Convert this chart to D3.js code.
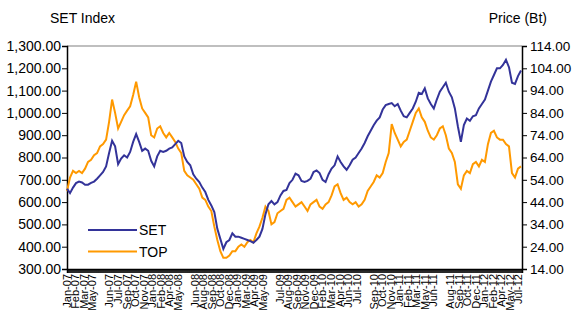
<!DOCTYPE html>
<html>
<head>
<meta charset="utf-8">
<script src="https://cdn.jsdelivr.net/npm/d3@7"></script>
<style>
  body { margin: 0; background: #fff; }
  svg { font-family: "Liberation Sans", Arial, sans-serif; }
</style>
</head>
<body>
<script>
// SET index and TOP share price, half-monthly readings Jan-07 .. Jul-12
var setIndex = [660, 640, 665, 685, 692, 688, 678, 678, 686, 692,
  705, 720, 735, 760, 820, 875, 850, 770, 795, 810,
  800, 825, 870, 905, 870, 830, 840, 830, 785, 760,
  805, 830, 825, 830, 840, 845, 860, 875, 865, 805,
  780, 765, 725, 705, 690, 665, 645, 610, 585, 555,
  480, 435, 390, 420, 430, 460, 445, 445, 440, 435,
  430, 425, 418, 430, 445, 480, 545, 590, 605, 590,
  600, 630, 650, 655, 685, 700, 728, 720, 695, 690,
  695, 705, 735, 742, 730, 700, 690, 725, 750, 765,
  805, 780, 760, 745, 765, 790, 800, 820, 840, 865,
  895, 920, 945, 965, 980, 1015, 1035, 1040, 1044, 1030,
  1040, 1010, 985, 980, 1000, 1020, 1050, 1090, 1085, 1110,
  1065, 1040, 1020, 1060, 1095, 1115, 1135, 1095, 1070, 1020,
  940, 870, 945, 975, 965, 985, 990, 1020, 1040, 1060,
  1100, 1140, 1170, 1200, 1200, 1215, 1238, 1205, 1135, 1130,
  1165, 1190];

var topPrice = [49, 55, 58, 57, 58, 57, 59, 62, 63, 65,
  66, 69, 70, 72, 80, 90, 84, 77, 80, 83,
  85, 87, 92, 98, 91, 86, 84, 82, 74, 73,
  77, 78, 75, 73, 75, 73, 71, 68, 66, 58,
  56, 55, 54, 52, 50, 46, 45, 42, 40, 33,
  27, 22, 19, 19, 20, 22, 22, 24, 25, 24,
  26, 27, 26, 30, 33, 37, 42, 40, 34, 35,
  39, 40, 41, 45, 46, 44, 42, 43, 44, 42,
  40, 43, 44, 45, 42, 41, 43, 44, 47, 51,
  52, 48, 45, 46, 44, 43, 44, 42, 43, 45,
  49, 51, 53, 56, 55, 57, 62, 66, 79, 75,
  72, 69, 71, 72, 76, 80, 84, 86, 82, 80,
  76, 73, 72, 74, 77, 78, 74, 68, 66, 62,
  52, 50, 56, 58, 57, 61, 62, 60, 63, 62,
  70, 75, 76, 73, 72, 72, 70, 69, 57, 55,
  59, 60];

// month labels under the axis and the label slot they sit in (Excel skips some)
var monthLabels = ["Jan-07", "Feb-07", "Mar-07", "May-07", "Jun-07", "Jul-07", "Sep-07", "Oct-07", "Nov-07",
  "Jan-08", "Feb-08", "Apr-08", "May-08", "Jun-08", "Aug-08", "Sep-08", "Oct-08", "Dec-08",
  "Jan-09", "Mar-09", "Apr-09", "May-09", "Jul-09", "Aug-09", "Sep-09", "Nov-09", "Dec-09",
  "Feb-10", "Mar-10", "Apr-10", "Jun-10", "Jul-10", "Sep-10", "Oct-10", "Nov-10",
  "Jan-11", "Feb-11", "Mar-11", "May-11", "Jun-11", "Aug-11", "Sep-11", "Oct-11", "Dec-11",
  "Jan-12", "Feb-12", "Apr-12", "May-12", "Jul-12"];
var labelSlots = [0, 1, 2, 3, 5, 6, 7, 8, 9,
  10, 11, 12, 13, 15, 16, 17, 18, 19,
  20, 21, 22, 23, 25, 26, 27, 28, 29,
  30, 31, 32, 33, 34, 36, 37, 38,
  39, 40, 41, 42, 43, 45, 46, 47, 48,
  49, 50, 51, 52, 53];

var leftTicks = [300, 400, 500, 600, 700, 800, 900, 1000, 1100, 1200, 1300];
var rightTicks = [14, 24, 34, 44, 54, 64, 74, 84, 94, 104, 114];

var tradingDays = 1335, daysPerSlot = 25;

var margin = {top: 46, right: 50, bottom: 45, left: 67},
    width = 572 - margin.left - margin.right,
    height = 314 - margin.top - margin.bottom;

var svg = d3.select("body").append("svg")
    .attr("width", 572)
    .attr("height", 314)
  .append("g")
    .attr("transform", "translate(" + margin.left + "," + margin.top + ")");

// scales
var dayX = d3.scaleLinear().domain([0, tradingDays]).range([0, width]);
var x = d3.scaleLinear().domain([0, setIndex.length - 1]).range([0, width - 1]);
var yLeft = d3.scaleLinear().domain([300, 1300]).range([height, 0]);
var yRight = d3.scaleLinear().domain([14, 114]).range([height, 0]);

// top border
svg.append("line")
    .attr("x1", 0).attr("x2", width)
    .attr("y1", 0).attr("y2", 0)
    .attr("stroke", "#808080")
    .attr("stroke-width", 1.2);

// dense category ticks along the bottom
svg.append("g")
    .attr("transform", "translate(0," + height + ")")
    .call(d3.axisBottom(dayX).tickValues(d3.range(0, tradingDays + 1)).tickSize(4).tickFormat(""))
    .call(function(g) { g.selectAll(".tick line").attr("stroke", "#000").attr("stroke-width", 0.5); })
    .call(function(g) { g.select(".domain").attr("stroke", "#000").attr("stroke-width", 1.5); });

// month labels, rotated
svg.append("g")
    .selectAll("text")
    .data(monthLabels)
    .enter().append("text")
    .attr("transform", function(d, i) {
        return "translate(" + dayX(labelSlots[i] * daysPerSlot) + "," + (height + 5) + ") rotate(-90)";
    })
    .attr("dy", "0.35em")
    .attr("text-anchor", "end")
    .style("font-size", "11px")
    .attr("fill", "#000")
    .text(function(d) { return d; });

// left axis
svg.append("g")
    .call(d3.axisLeft(yLeft).tickValues(leftTicks).tickFormat(d3.format(",.2f")).tickSize(5).tickPadding(1))
    .call(function(g) {
        g.select(".domain").attr("stroke", "#000").attr("stroke-width", 1.5);
        g.selectAll(".tick line").attr("stroke", "#000");
        g.selectAll("text").style("font-size", "14px").attr("fill", "#000");
    });

// right axis
svg.append("g")
    .attr("transform", "translate(" + width + ",0)")
    .call(d3.axisRight(yRight).tickValues(rightTicks).tickFormat(d3.format(".2f")).tickSize(5).tickPadding(3))
    .call(function(g) {
        g.select(".domain").attr("stroke", "#000").attr("stroke-width", 1.5);
        g.selectAll(".tick line").attr("stroke", "#000");
        g.selectAll("text").style("font-size", "13.5px").attr("fill", "#000");
    });

// axis titles
svg.append("text")
    .attr("x", -17).attr("y", -23)
    .style("font-size", "14px")
    .text("SET Index");
svg.append("text")
    .attr("x", 480).attr("y", -23)
    .attr("text-anchor", "end")
    .style("font-size", "14px")
    .text("Price (Bt)");

// lines
var setLine = d3.line()
    .x(function(d, i) { return x(i); })
    .y(function(d) { return yLeft(d); });
var topLine = d3.line()
    .x(function(d, i) { return x(i); })
    .y(function(d) { return yRight(d); });

svg.append("path")
    .datum(topPrice)
    .attr("fill", "none")
    .attr("stroke", "#ff9900")
    .attr("stroke-width", 2)
    .attr("d", topLine);

svg.append("path")
    .datum(setIndex)
    .attr("fill", "none")
    .attr("stroke", "#333399")
    .attr("stroke-width", 2)
    .attr("d", setLine);

// legend
var legend = [{name: "SET", color: "#333399"}, {name: "TOP", color: "#ff9900"}];
var lg = svg.append("g").attr("transform", "translate(21,184)");
legend.forEach(function(d, i) {
    lg.append("line")
        .attr("x1", 0).attr("x2", 49)
        .attr("y1", i * 21.5).attr("y2", i * 21.5)
        .attr("stroke", d.color)
        .attr("stroke-width", 2);
    lg.append("text")
        .attr("x", 51).attr("y", i * 21.5)
        .attr("dy", "0.36em")
        .style("font-size", "14px")
        .text(d.name);
});
</script>
</body>
</html>
